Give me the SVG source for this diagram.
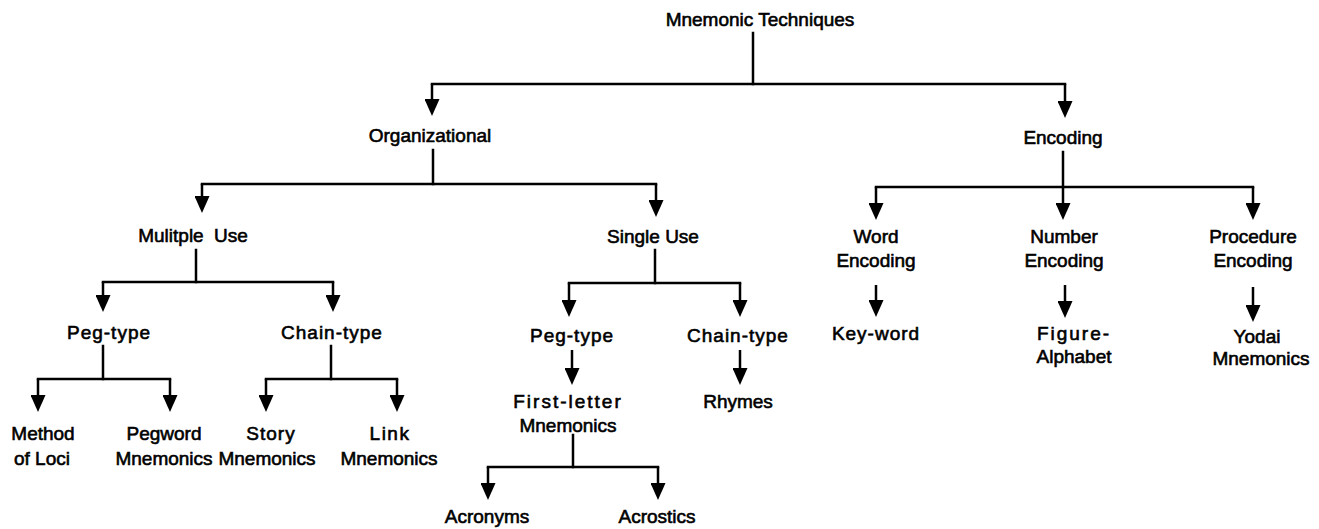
<svg xmlns="http://www.w3.org/2000/svg" width="1319" height="529" viewBox="0 0 1319 529">
<style>
text{font-family:"Liberation Sans",Arial,Helvetica,sans-serif;font-size:19px;fill:#000;stroke:#000;stroke-width:0.6px;text-anchor:middle}
.sp{letter-spacing:1px}
.sp2{letter-spacing:2px}
.c path{fill:none;stroke:#000;stroke-width:2.5}
.c .bus{stroke-linecap:square}
</style>
<defs>
<marker id="ah" markerUnits="userSpaceOnUse" viewBox="0 0 17 15" refX="0" refY="7.5" markerWidth="17" markerHeight="15" orient="auto">
<path d="M0,0 L17,7.5 L0,15 z" fill="#000"/>
</marker>
</defs>
<rect width="1319" height="529" fill="#fff"/>
<g id="connectors" class="c">
<path class="bus" d="M753,33 V84"/>
<path class="bus" d="M432,84 H1065"/>
<path d="M432,84 V99" marker-end="url(#ah)"/>
<path d="M1065,84 V101" marker-end="url(#ah)"/>
<path class="bus" d="M433,150 V184"/>
<path class="bus" d="M202,184 H656"/>
<path d="M202,184 V196" marker-end="url(#ah)"/>
<path d="M656,184 V200" marker-end="url(#ah)"/>
<path class="bus" d="M1063,152 V187"/>
<path class="bus" d="M876,187 H1253"/>
<path d="M876,187 V203" marker-end="url(#ah)"/>
<path d="M1063,187 V203" marker-end="url(#ah)"/>
<path d="M1253,187 V203" marker-end="url(#ah)"/>
<path class="bus" d="M196,250 V282"/>
<path class="bus" d="M103,282 H333"/>
<path d="M103,282 V295" marker-end="url(#ah)"/>
<path d="M333,282 V295" marker-end="url(#ah)"/>
<path class="bus" d="M655,250 V283"/>
<path class="bus" d="M569,283 H740"/>
<path d="M569,283 V300" marker-end="url(#ah)"/>
<path d="M740,283 V300" marker-end="url(#ah)"/>
<path class="bus" d="M103,346 V379"/>
<path class="bus" d="M38,379 H170"/>
<path d="M38,379 V395" marker-end="url(#ah)"/>
<path d="M170,379 V395" marker-end="url(#ah)"/>
<path class="bus" d="M331,346 V379"/>
<path class="bus" d="M266,379 H397"/>
<path d="M266,379 V395" marker-end="url(#ah)"/>
<path d="M397,379 V395" marker-end="url(#ah)"/>
<path d="M572,350 V368" marker-end="url(#ah)"/>
<path d="M740,350 V368" marker-end="url(#ah)"/>
<path class="bus" d="M573,435 V467"/>
<path class="bus" d="M488,467 H658"/>
<path d="M488,467 V483" marker-end="url(#ah)"/>
<path d="M658,467 V483" marker-end="url(#ah)"/>
<path d="M876,285 V300" marker-end="url(#ah)"/>
<path d="M1065,285 V301" marker-end="url(#ah)"/>
<path d="M1253,287 V305" marker-end="url(#ah)"/>
</g>
<g id="n-root"><text x="760" y="26">Mnemonic Techniques</text></g>
<g id="n-organizational"><text x="430" y="142">Organizational</text></g>
<g id="n-encoding"><text x="1063" y="144">Encoding</text></g>
<g id="n-multiple"><text x="193" y="242" word-spacing="5">Mulitple Use</text></g>
<g id="n-single"><text x="653" y="243">Single Use</text></g>
<g id="n-word"><text x="876" y="243">Word</text><text x="876" y="267">Encoding</text></g>
<g id="n-number"><text x="1064" y="243">Number</text><text x="1064" y="267">Encoding</text></g>
<g id="n-procedure"><text x="1253" y="243">Procedure</text><text x="1253" y="267">Encoding</text></g>
<g id="n-peg1"><text class="sp" x="109" y="339">Peg-type</text></g>
<g id="n-chain1"><text class="sp" x="332" y="339">Chain-type</text></g>
<g id="n-peg2"><text class="sp" x="572" y="342">Peg-type</text></g>
<g id="n-chain2"><text class="sp" x="738" y="342">Chain-type</text></g>
<g id="n-keyword"><text class="sp" x="876" y="340">Key-word</text></g>
<g id="n-figure"><text class="sp2" x="1074" y="340">Figure-</text><text x="1074" y="363">Alphabet</text></g>
<g id="n-yodai"><text x="1257" y="343">Yodai</text><text x="1261" y="365">Mnemonics</text></g>
<g id="n-firstletter"><text class="sp2" x="568" y="408">First-letter</text><text x="568" y="432">Mnemonics</text></g>
<g id="n-rhymes"><text x="738" y="408">Rhymes</text></g>
<g id="n-loci"><text x="43" y="440">Method</text><text x="42" y="465">of Loci</text></g>
<g id="n-pegword"><text x="164" y="440">Pegword</text><text x="164" y="465">Mnemonics</text></g>
<g id="n-story"><text class="sp" x="271" y="440">Story</text><text x="267" y="465">Mnemonics</text></g>
<g id="n-link"><text style="letter-spacing:1.5px" x="390" y="440">Link</text><text x="389" y="465">Mnemonics</text></g>
<g id="n-acronyms"><text x="487" y="523">Acronyms</text></g>
<g id="n-acrostics"><text x="657" y="523">Acrostics</text></g>
</svg>
